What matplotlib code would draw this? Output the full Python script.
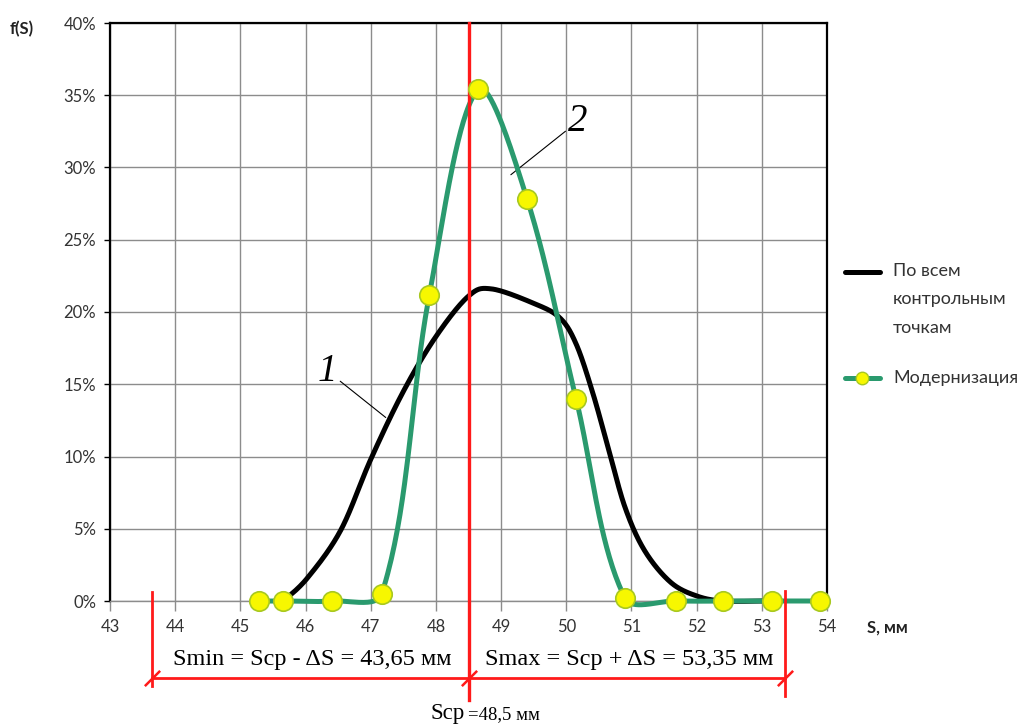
import numpy as np
import matplotlib
matplotlib.use("Agg")
import matplotlib.pyplot as plt
from matplotlib.lines import Line2D

# ---- data ----
# "Модернизация" (green, with markers)
s_mod = [45.28, 45.66, 46.40, 47.17, 47.90, 48.65, 49.40, 50.15, 50.90, 51.68, 52.40, 53.15, 53.90]
f_mod = [0.0, 0.0, 0.0, 0.5, 21.2, 35.4, 27.8, 14.0, 0.2, 0.0, 0.0, 0.0, 0.0]

# "По всем контрольным точкам" (black, no markers)
s_all = [45.66, 46.03, 46.54, 47.00, 47.50, 48.00, 48.50, 48.85, 49.50, 49.90, 50.15, 50.40,
         50.65, 50.90, 51.20, 51.60, 52.00, 52.40, 53.00]
f_all = [0.0, 1.6, 4.9, 9.8, 14.5, 18.3, 21.1, 21.6, 20.6, 19.6, 17.8, 14.5,
         10.5, 6.5, 3.5, 1.3, 0.35, 0.0, 0.0]

s_cp = 48.5
s_min = 43.65
s_max = 53.35

x_ticks = list(range(43, 55))
y_ticks = list(range(0, 41, 5))

plt.rcParams.update({'font.family': ['Lato', 'DejaVu Sans']})


def smooth(x, y, n=40, chord=True, sx=65.0, sy=14.45):
    """Excel-like smoothed line (bezier through the points), in screen-ish units"""
    p = np.column_stack([np.asarray(x) * sx, np.asarray(y) * sy])
    P = np.vstack([p[0], p, p[-1]])
    t = np.linspace(0, 1, n)[:, None]
    out = []
    for i in range(len(p) - 1):
        p0, p1, p2, p3 = P[i], P[i + 1], P[i + 2], P[i + 3]
        if chord:
            d01 = np.hypot(*(p1 - p0)); d12 = np.hypot(*(p2 - p1)); d23 = np.hypot(*(p3 - p2))
            k1 = d12 / (d01 + d12 + 1e-9) / 3 if d01 > 0 else 0
            k2 = d12 / (d12 + d23 + 1e-9) / 3 if d23 > 0 else 0
        else:
            k1 = k2 = 1 / 6
        c1 = p1 + (p2 - p0) * k1
        c2 = p2 - (p3 - p1) * k2
        seg = (1 - t) ** 3 * p1 + 3 * (1 - t) ** 2 * t * c1 + 3 * (1 - t) * t ** 2 * c2 + t ** 3 * p2
        out.append(seg)
    out = np.vstack(out)
    return out[:, 0] / sx, out[:, 1] / sy


W, H = 1028, 724
fig = plt.figure(figsize=(W / 100, H / 100), dpi=100)
ax = fig.add_axes([110 / W, 1 - 601 / H, (827 - 110) / W, (601 - 23) / H])

green = '#2a9a6e'
red = '#ff1a1a'

bx, by = smooth(s_all, f_all, chord=False)
ax.plot(bx, by, color='black', lw=3.6, clip_on=False, zorder=3, solid_capstyle='round')
gx, gy = smooth(s_mod, f_mod)
ax.plot(gx, gy, color=green, lw=3.6, clip_on=False, zorder=4, solid_capstyle='round')
ax.plot(s_mod, f_mod, ls='none', marker='o', ms=14, mfc='#f7f700', mec='#a8c820', mew=1.2,
        clip_on=False, zorder=6)

ax.set_xlim(43, 54)
ax.set_ylim(0, 40)
ax.set_xticks(x_ticks)
ax.set_yticks(y_ticks)
ax.set_yticklabels(['%d%%' % v for v in y_ticks])
ax.tick_params(axis='x', length=7, width=1, color='#8c8c8c', pad=6, labelsize=12, labelcolor='#333333')
ax.tick_params(axis='y', length=4, width=1, color='black', pad=6, labelsize=12, labelcolor='#333333')
ax.grid(True, color='#8c8c8c', lw=1)
ax.set_axisbelow(True)
for side in ['left', 'top', 'right']:
    ax.spines[side].set_color('black')
    ax.spines[side].set_linewidth(1.6)
ax.spines['bottom'].set_color('#8c8c8c')
ax.spines['bottom'].set_linewidth(1)

# red dimension lines
ax.plot([s_cp, s_cp], [40, -6.85], color=red, lw=2.4, clip_on=False, zorder=5)
ax.plot([s_min, s_min], [0.6, -5.9], color=red, lw=2, clip_on=False, zorder=5)
ax.plot([s_max, s_max], [0.7, -6.6], color=red, lw=2, clip_on=False, zorder=5)
ax.plot([s_min, s_max], [-5.35, -5.35], color=red, lw=2, clip_on=False, zorder=5)
ax.plot([s_min, s_cp, s_max], [-5.35] * 3, ls='none', marker=[(-1, -1), (1, 1)], ms=11,
        mec=red, mew=1.8, clip_on=False, zorder=5)

serif = ['Liberation Serif', 'DejaVu Serif']
fig.text(312 / W, 1 - 660 / H, 'Smin = Scp - ΔS = 43,65 мм', family=serif, fontsize=17.5,
         ha='center', va='center')
fig.text(629 / W, 1 - 660 / H, 'Smax = Scp + ΔS = 53,35 мм', family=serif, fontsize=17.5,
         ha='center', va='center')
fig.text(430 / W, 1 - 719 / H, 'Scp', family=serif, fontsize=16.5, ha='left', va='baseline')
fig.text(468 / W, 1 - 719 / H, '=48,5 мм', family=serif, fontsize=13.5, ha='left', va='baseline')

# curve labels
ax.annotate('1', xy=(47.23, 12.7), xytext=(46.34, 15.9), family=serif, style='italic',
            fontsize=28, ha='center', va='center',
            arrowprops=dict(arrowstyle='-', color='black', lw=0.8, shrinkA=0, shrinkB=0))
ax.annotate('2', xy=(49.15, 29.5), xytext=(50.18, 33.2), family=serif, style='italic',
            fontsize=28, ha='center', va='center',
            arrowprops=dict(arrowstyle='-', color='black', lw=0.8, shrinkA=0, shrinkB=0))

# axis titles
fig.text(22 / W, 1 - 29 / H, 'f(S)', fontsize=12, fontweight='bold', ha='center', va='center',
         color='#222222')
fig.text(887 / W, 1 - 628 / H, 'S, мм', fontsize=12, fontweight='bold', ha='center', va='center',
         color='#222222')

# legend drawn by hand so the key sits on the first text line
fig.add_artist(Line2D([845 / W, 880 / W], [1 - 272 / H] * 2, transform=fig.transFigure,
                      color='black', lw=3.6, solid_capstyle='round'))
fig.text(893 / W, 1 - 263 / H, 'По всем\nконтрольным\nточкам', fontsize=13, ha='left', va='top',
         linespacing=1.95, color='#333333')
fig.add_artist(Line2D([845 / W, 880 / W], [1 - 378 / H] * 2, transform=fig.transFigure,
                      color=green, lw=3.6, solid_capstyle='round'))
fig.add_artist(Line2D([862 / W], [1 - 378 / H], transform=fig.transFigure, ls='none', marker='o',
                      ms=9, mfc='#f7f700', mec='#a8c820', mew=1))
fig.text(893 / W, 1 - 378 / H, 'Модернизация', fontsize=13, ha='left', va='center',
         color='#333333')

fig.savefig('out.png', dpi=100)
